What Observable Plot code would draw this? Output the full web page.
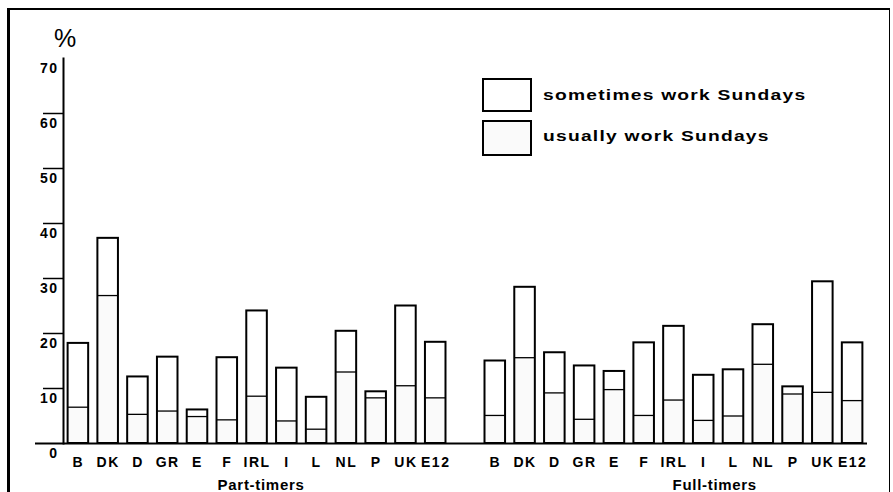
<!DOCTYPE html>
<html>
<head>
<meta charset="utf-8">
<script src="https://cdn.jsdelivr.net/npm/d3@7"></script>
<script src="https://cdn.jsdelivr.net/npm/@observablehq/plot@0.6"></script>
<style>
  html, body { margin: 0; padding: 0; background: #fff; }
  #wrap { position: relative; width: 893px; height: 492px; overflow: hidden; font-family: "Liberation Sans", Arial, sans-serif; color: #000; }
  #wrap svg { position: absolute; left: 0; top: 0; }
  #wrap svg text { font-weight: bold; }
  #wrap svg g[aria-label="x-axis tick label"] text { letter-spacing: 1.5px; font-size: 14px; }
  #wrap svg g[aria-label="y-axis tick label"] text { letter-spacing: 1.5px; font-size: 14px; }
  #wrap svg g.grp text { font-size: 15px; letter-spacing: 0.7px; }
  #frame { position: absolute; left: 7px; top: 8px; width: 883px; height: 500px; border-left: 3px solid #000; border-top: 2.5px solid #000; border-right: 1px solid #000; box-sizing: border-box; }
  #pct { position: absolute; left: 54px; top: 24px; font-size: 25px; }
  .lg-box { position: absolute; left: 482px; width: 50px; border: 2px solid #000; box-sizing: border-box; }
  .lg-txt { position: absolute; left: 543px; font-size: 15.5px; font-weight: bold; letter-spacing: 1px; white-space: nowrap; transform: scaleX(1.24); transform-origin: 0 50%; }
</style>
</head>
<body>
<div id="wrap">
  <div id="frame"></div>
  <div id="chart"></div>
  <div id="pct">%</div>
  <div class="lg-box" style="top:78px;height:34px;background:#fff"></div>
  <div class="lg-txt" style="top:86px">sometimes work Sundays</div>
  <div class="lg-box" style="top:120px;height:36px;background:#fafafa"></div>
  <div class="lg-txt" style="top:127px">usually work Sundays</div>
</div>
<script>
const countries = ["B","DK","D","GR","E","F","IRL","I","L","NL","P","UK","E12"];
const groups = ["Part-timers","Full-timers"];
// total = usually + sometimes (height of whole bar), usual = usually work Sundays
const partTotal = [18.2, 37.3, 12.1, 15.7, 6.1, 15.6, 24.1, 13.7, 8.4, 20.4, 9.4, 25.0, 18.4];
const partUsual = [6.6, 26.9, 5.3, 5.9, 4.9, 4.3, 8.6, 4.1, 2.6, 13.0, 8.3, 10.5, 8.3];
const fullTotal = [15.0, 28.4, 16.5, 14.1, 13.1, 18.3, 21.3, 12.4, 13.4, 21.6, 10.3, 29.4, 18.3];
const fullUsual = [5.1, 15.6, 9.2, 4.4, 9.8, 5.1, 7.9, 4.2, 5.0, 14.4, 9.0, 9.3, 7.8];
const yTicks = [0, 10, 20, 30, 40, 50, 60, 70];

const rows = [];
countries.forEach((c, i) => rows.push({key: groups[0] + "|" + c, country: c, total: partTotal[i], usual: partUsual[i]}));
countries.forEach((c, i) => rows.push({key: groups[1] + "|" + c, country: c, total: fullTotal[i], usual: fullUsual[i]}));
const domain = [...countries.map(c => groups[0] + "|" + c), "gap", ...countries.map(c => groups[1] + "|" + c)];

const chart = Plot.plot({
  width: 893,
  height: 492,
  marginTop: 58,
  marginBottom: 49,
  marginLeft: 63,
  marginRight: 26,
  style: {fontFamily: "'Liberation Sans', Arial, sans-serif", background: "transparent", color: "#000"},
  x: {domain, paddingInner: 0.31, paddingOuter: 0.155, round: false, label: null},
  y: {domain: [0, 70], label: null},
  marks: [
    Plot.barY(rows, {x: "key", y1: 0, y2: "total", fill: "#fff"}),
    Plot.barY(rows, {x: "key", y1: 0, y2: "usual", fill: "#fafafa"}),
    Plot.tickY(rows, {x: "key", y: "usual", stroke: "#000", strokeWidth: 1.3}),
    Plot.barY(rows, {x: "key", y1: 0, y2: "total", fill: "none", stroke: "#000", strokeWidth: 2}),
    Plot.frame({anchor: "left", strokeWidth: 2}),
    Plot.ruleY([0], {strokeWidth: 2}),
    Plot.axisY({ticks: yTicks.filter(t => t > 0 && t < 70), tickSize: 20, tickFormat: () => "", strokeWidth: 1.5}),
    Plot.axisY({ticks: [0], tickSize: 28, tickFormat: () => "", strokeWidth: 2}),
    Plot.axisY({ticks: yTicks, tickSize: 0, tickPadding: 5, dy: 10.5}),
    Plot.axisX({tickSize: 0, tickPadding: 14, tickFormat: k => k === "gap" ? "" : k.split("|")[1]}),
    Plot.text([groups[0]], {x: () => groups[0] + "|IRL", text: d => d, frameAnchor: "bottom", lineAnchor: "middle", dy: 41.5, dx: 4, className: "grp"}),
    Plot.text([groups[1]], {x: () => groups[1] + "|I", text: d => d, frameAnchor: "bottom", lineAnchor: "middle", dy: 41.5, dx: 11, className: "grp"})
  ]
});
document.getElementById("chart").append(chart);
</script>
</body>
</html>
